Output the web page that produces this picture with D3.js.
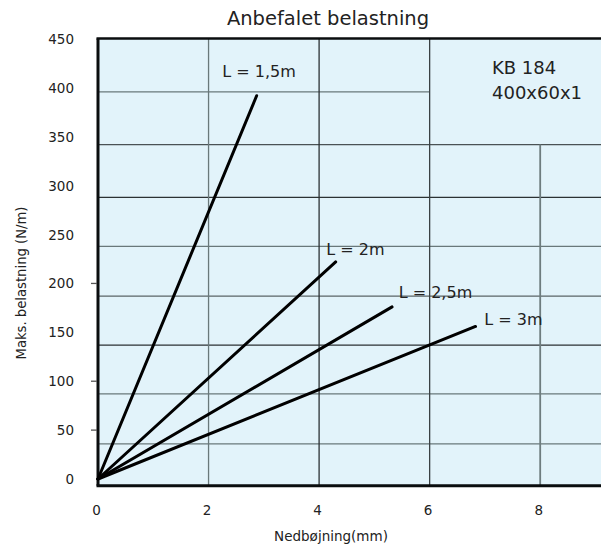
<!DOCTYPE html>
<meta charset="utf-8">
<head>
<script src="https://d3js.org/d3.v7.min.js"></script>
<style>
  body { margin: 0; background: #fff; }
  text { font-family: "DejaVu Sans", sans-serif; fill: #222; }
</style>
</head>
<body>
<svg id="chart" width="601" height="548"></svg>
<script>

// data
var xTicks = [0, 2, 4, 6, 8];
var yTicks = [0, 50, 100, 150, 200, 250, 300, 350, 400, 450];
var yTickMarks = [50, 100, 200];
var spans = ["L = 1,5m", "L = 2m", "L = 2,5m", "L = 3m"];
var endX = [2.87, 4.30, 5.32, 6.83];
var endY = [392, 222, 176, 156];
// label anchor (data units) for each span
var labelX = [2.25, 4.13, 5.44, 6.99];
var labelY = [411, 229, 185, 158];
// drawn grid lines (not on tick positions in the original)
var gridY = [396, 342, 288, 238, 187, 137, 87, 36];
var gridX = [2, 4, 6, 8];
var boxText = ["KB 184", "400x60x1"];

var svg = d3.select("#chart"),
    width = +svg.attr("width"),
    height = +svg.attr("height");

var x = d3.scaleLinear().domain([0, 9.1]).range([98, 601]);
var y = d3.scaleLinear().domain([0, 450]).range([479, 39]);

var plotTop = y(450.5), plotBottom = y(-7);

// plot background
svg.append("rect")
    .attr("x", x(0)).attr("y", plotTop)
    .attr("width", x(9.1) - x(0)).attr("height", plotBottom - plotTop)
    .attr("fill", "#e2f3fa");

var gridColor = ["#69787a", "#4a5254", "#2b3133", "#69787a", "#5a6466", "#2b3133", "#69787a", "#69787a"];
var vColor = ["#69787a", "#2b3133", "#3a4143", "#6e7c7e"];

// horizontal grid
svg.append("g").selectAll("line")
    .data(gridY)
    .enter().append("line")
    .attr("x1", x(0))
    .attr("x2", (d, i) => i === 0 ? x(6) : x(9.1))
    .attr("y1", d => y(d)).attr("y2", d => y(d))
    .attr("stroke", (d, i) => gridColor[i])
    .attr("stroke-width", 1.3);

// vertical grid
svg.append("g").selectAll("line")
    .data(gridX)
    .enter().append("line")
    .attr("x1", d => x(d)).attr("x2", d => x(d))
    .attr("y1", d => d === 8 ? y(gridY[1]) : plotTop)
    .attr("y2", plotBottom)
    .attr("stroke", (d, i) => vColor[i])
    .attr("stroke-width", (d, i) => i === 3 ? 1.8 : 1.3);

// frame: left, top, bottom
svg.append("line").attr("x1", x(0)).attr("x2", x(0)).attr("y1", plotTop).attr("y2", plotBottom)
    .attr("stroke", "#0a0d0e").attr("stroke-width", 3);
svg.append("line").attr("x1", x(0) - 1.5).attr("x2", width).attr("y1", plotTop).attr("y2", plotTop)
    .attr("stroke", "#0a0d0e").attr("stroke-width", 2.5);
svg.append("line").attr("x1", x(0) - 1.5).attr("x2", width).attr("y1", plotBottom).attr("y2", plotBottom)
    .attr("stroke", "#0a0d0e").attr("stroke-width", 3);

// y tick marks (only a few show in the original)
svg.append("g").selectAll("line")
    .data(yTickMarks)
    .enter().append("line")
    .attr("x1", x(0) - 7).attr("x2", x(0) - 1)
    .attr("y1", d => y(d)).attr("y2", d => y(d))
    .attr("stroke", "#555").attr("stroke-width", 1.3);

// tick labels
svg.append("g").selectAll("text")
    .data(yTicks)
    .enter().append("text")
    .attr("x", 74)
    .attr("y", d => y(d) + 5)
    .attr("text-anchor", "end")
    .attr("font-size", 13.5)
    .attr("fill", "#3a3a3a")
    .text(d => d);

svg.append("g").selectAll("text")
    .data(xTicks)
    .enter().append("text")
    .attr("x", d => x(d) - 1.5)
    .attr("y", 515)
    .attr("text-anchor", "middle")
    .attr("font-size", 13.5)
    .attr("fill", "#3a3a3a")
    .text(d => d);

// data lines
svg.append("g").selectAll("line")
    .data(spans)
    .enter().append("line")
    .attr("x1", x(0)).attr("y1", y(0))
    .attr("x2", (d, i) => x(endX[i]))
    .attr("y2", (d, i) => y(endY[i]))
    .attr("stroke", "#000")
    .attr("stroke-width", 3)
    .attr("stroke-linecap", "round");

svg.append("g").selectAll("text")
    .data(spans)
    .enter().append("text")
    .attr("x", (d, i) => x(labelX[i]))
    .attr("y", (d, i) => y(labelY[i]))
    .attr("font-size", 16)
    .text(d => d);

svg.append("g").selectAll("text")
    .data(boxText)
    .enter().append("text")
    .attr("x", 492)
    .attr("y", (d, i) => 74 + i * 25)
    .attr("font-size", 18)
    .text(d => d);

// titles
svg.append("text")
    .attr("x", 328).attr("y", 25)
    .attr("text-anchor", "middle")
    .attr("font-size", 19.5)
    .text("Anbefalet belastning");

svg.append("text")
    .attr("transform", "translate(26,283) rotate(-90)")
    .attr("text-anchor", "middle")
    .attr("font-size", 13.2)
    .attr("fill", "#3a3a3a")
    .text("Maks. belastning (N/m)");

svg.append("text")
    .attr("x", 331).attr("y", 541)
    .attr("text-anchor", "middle")
    .attr("font-size", 13.5)
    .attr("fill", "#3a3a3a")
    .text("Nedbøjning(mm)");

</script>
</body>
</html>
